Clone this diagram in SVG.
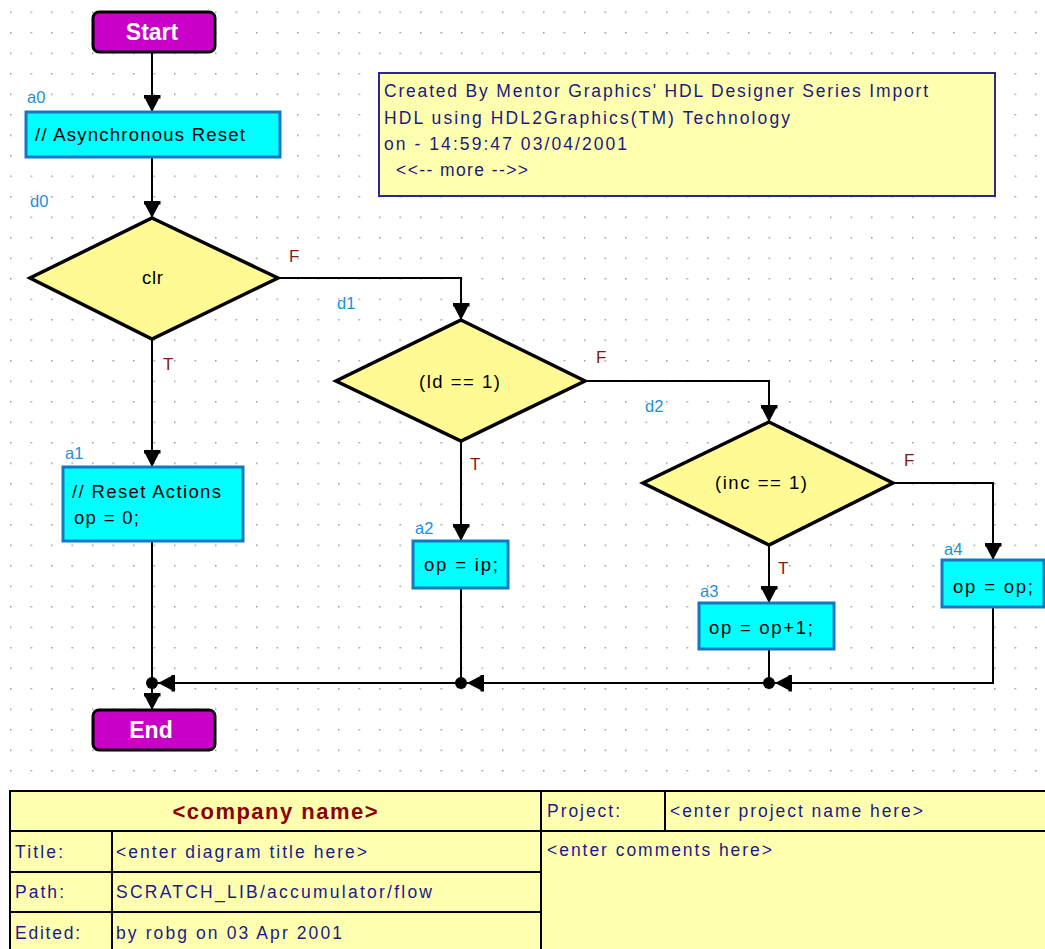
<svg xmlns="http://www.w3.org/2000/svg" width="1045" height="949" viewBox="0 0 1045 949">
  <style>
    text { font-family: "Liberation Sans", Arial, sans-serif; }
    .grid { fill: url(#dots); }
    .term { fill: #C800C8; stroke: #000; stroke-width: 3; }
    .termtxt { fill: #fff; font-size: 23px; font-weight: bold; text-anchor: middle; }
    .act { fill: #00FFFF; stroke: #1279C0; stroke-width: 3; }
    .dec { fill: #FFFA94; stroke: #000; stroke-width: 3.5; }
    .ntxt { fill: #000; font-size: 18.5px; }
    .lbl { fill: #1E8FD6; font-size: 16.5px; }
    .tf { fill: #8E1414; font-size: 17px; }
    .conn { fill: none; stroke: #000; stroke-width: 2; }
    .note { fill: #FFFFB0; stroke: #2A2A86; stroke-width: 2; }
    .ntext { fill: #1A1A80; font-size: 17.5px; }
    .cell { fill: #FFFFB0; stroke: #000; stroke-width: 2; }
    .ttxt { fill: #1A1A8C; font-size: 17.5px; }
    .company { fill: #8B0000; font-size: 22px; font-weight: bold; text-anchor: middle; }
  </style>
  <defs>
    <pattern id="dots" x="10" y="11.5" width="20.5" height="20.5" patternUnits="userSpaceOnUse">
      <rect x="0" y="0" width="1.5" height="1.5" fill="#9A9A9A"/>
    </pattern>
    <marker id="arr" markerUnits="userSpaceOnUse" markerWidth="17" markerHeight="17" refX="17" refY="8.5" orient="auto">
      <path d="M0,0 L3.5,0 L3.5,1.5 L17,8.5 L3.5,15.5 L3.5,17 L0,17 Z" fill="#000"/>
    </marker>
  </defs>

  <!-- background dot grid -->
  <rect class="grid" x="0" y="0" width="1045" height="776"/>

  <!-- connectors -->
  <g id="connectors">
    <path class="conn" d="M152,52 V112" marker-end="url(#arr)"/>
    <path class="conn" d="M152,157 V218" marker-end="url(#arr)"/>
    <path class="conn" d="M278,278 H461 V320" marker-end="url(#arr)"/>
    <path class="conn" d="M585,381 H769 V422" marker-end="url(#arr)"/>
    <path class="conn" d="M893,483 H993 V560" marker-end="url(#arr)"/>
    <path class="conn" d="M152,339 V467" marker-end="url(#arr)"/>
    <path class="conn" d="M461,441 V541" marker-end="url(#arr)"/>
    <path class="conn" d="M769,545 V603" marker-end="url(#arr)"/>
    <path class="conn" d="M993,607 V683 H775" marker-end="url(#arr)"/>
    <path class="conn" d="M769,649 V683 H467" marker-end="url(#arr)"/>
    <path class="conn" d="M461,588 V683 H158" marker-end="url(#arr)"/>
    <path class="conn" d="M152,541 V710" marker-end="url(#arr)"/>
    <circle cx="769" cy="683" r="6" fill="#000"/>
    <circle cx="461" cy="683" r="6" fill="#000"/>
    <circle cx="152" cy="683" r="6" fill="#000"/>
    <text class="tf" x="289" y="262">F</text>
    <text class="tf" x="163" y="370">T</text>
    <text class="tf" x="596" y="363">F</text>
    <text class="tf" x="470" y="470">T</text>
    <text class="tf" x="904" y="466">F</text>
    <text class="tf" x="778" y="574">T</text>
  </g>

  <!-- start / end terminals -->
  <g id="start">
    <rect class="term" x="93" y="12" width="122" height="40" rx="6"/>
    <text class="termtxt" x="152" y="40">Start</text>
  </g>
  <g id="end">
    <rect class="term" x="93" y="710" width="122" height="40" rx="6"/>
    <text class="termtxt" x="151" y="738">End</text>
  </g>

  <!-- action boxes -->
  <g id="a0">
    <text class="lbl" x="27" y="103">a0</text>
    <rect class="act" x="26" y="112" width="254" height="45"/>
    <text class="ntxt" x="35" y="141" textLength="210" lengthAdjust="spacing">// Asynchronous Reset</text>
  </g>
  <g id="a1">
    <text class="lbl" x="65" y="459">a1</text>
    <rect class="act" x="63" y="467" width="180" height="74"/>
    <text class="ntxt" x="72" y="498" textLength="149" lengthAdjust="spacing">// Reset Actions</text>
    <text class="ntxt" x="74" y="524" textLength="65" lengthAdjust="spacing">op = 0;</text>
  </g>
  <g id="a2">
    <text class="lbl" x="415" y="534">a2</text>
    <rect class="act" x="413" y="541" width="95" height="47"/>
    <text class="ntxt" x="424" y="571" textLength="74" lengthAdjust="spacing">op = ip;</text>
  </g>
  <g id="a3">
    <text class="lbl" x="700" y="597">a3</text>
    <rect class="act" x="699" y="603" width="135" height="46"/>
    <text class="ntxt" x="709" y="634" textLength="104" lengthAdjust="spacing">op = op+1;</text>
  </g>
  <g id="a4">
    <text class="lbl" x="944" y="555">a4</text>
    <rect class="act" x="942" y="560" width="102" height="47"/>
    <text class="ntxt" x="953" y="593" textLength="80" lengthAdjust="spacing">op = op;</text>
  </g>

  <!-- decisions -->
  <g id="d0">
    <text class="lbl" x="30" y="207">d0</text>
    <polygon class="dec" points="152,218 278,278 152,339 30,278"/>
    <text class="ntxt" x="142" y="284" textLength="21" lengthAdjust="spacing">clr</text>
  </g>
  <g id="d1">
    <text class="lbl" x="337" y="309">d1</text>
    <polygon class="dec" points="461,320 585,381 461,441 336,381"/>
    <text class="ntxt" x="419" y="388" textLength="81" lengthAdjust="spacing">(ld == 1)</text>
  </g>
  <g id="d2">
    <text class="lbl" x="645" y="412">d2</text>
    <polygon class="dec" points="769,422 893,483 769,545 643,483"/>
    <text class="ntxt" x="715" y="489" textLength="92" lengthAdjust="spacing">(inc == 1)</text>
  </g>

  <!-- header note -->
  <g id="note">
    <rect class="note" x="379" y="73" width="616" height="123"/>
    <text class="ntext" x="384" y="97" textLength="544" lengthAdjust="spacing">Created By Mentor Graphics' HDL Designer Series Import</text>
    <text class="ntext" x="384" y="124" textLength="406" lengthAdjust="spacing">HDL using HDL2Graphics(TM) Technology</text>
    <text class="ntext" x="384" y="150" textLength="243" lengthAdjust="spacing">on - 14:59:47 03/04/2001</text>
    <text class="ntext" x="396" y="176" textLength="132" lengthAdjust="spacing">&lt;&lt;-- more --&gt;&gt;</text>
  </g>

  <!-- title block -->
  <g id="titleblock">
    <rect class="cell" x="10" y="791" width="531" height="40"/>
    <rect class="cell" x="10" y="831" width="102" height="41"/>
    <rect class="cell" x="112" y="831" width="429" height="41"/>
    <rect class="cell" x="10" y="872" width="102" height="40"/>
    <rect class="cell" x="112" y="872" width="429" height="40"/>
    <rect class="cell" x="10" y="912" width="102" height="40"/>
    <rect class="cell" x="112" y="912" width="429" height="40"/>
    <rect class="cell" x="541" y="791" width="124" height="40"/>
    <rect class="cell" x="665" y="791" width="385" height="40"/>
    <rect class="cell" x="541" y="831" width="509" height="121"/>
    <text class="company" x="275" y="819" textLength="205" lengthAdjust="spacing">&lt;company name&gt;</text>
    <text class="ttxt" x="15" y="858" textLength="48" lengthAdjust="spacing">Title:</text>
    <text class="ttxt" x="116" y="858" textLength="251" lengthAdjust="spacing">&lt;enter diagram title here&gt;</text>
    <text class="ttxt" x="15" y="898" textLength="49" lengthAdjust="spacing">Path:</text>
    <text class="ttxt" x="116" y="898" textLength="316" lengthAdjust="spacing">SCRATCH_LIB/accumulator/flow</text>
    <text class="ttxt" x="15" y="939" textLength="65" lengthAdjust="spacing">Edited:</text>
    <text class="ttxt" x="116" y="939" textLength="226" lengthAdjust="spacing">by robg on 03 Apr 2001</text>
    <text class="ttxt" x="547" y="817" textLength="73" lengthAdjust="spacing">Project:</text>
    <text class="ttxt" x="670" y="817" textLength="253" lengthAdjust="spacing">&lt;enter project name here&gt;</text>
    <text class="ttxt" x="547" y="856" textLength="225" lengthAdjust="spacing">&lt;enter comments here&gt;</text>
  </g>
</svg>
